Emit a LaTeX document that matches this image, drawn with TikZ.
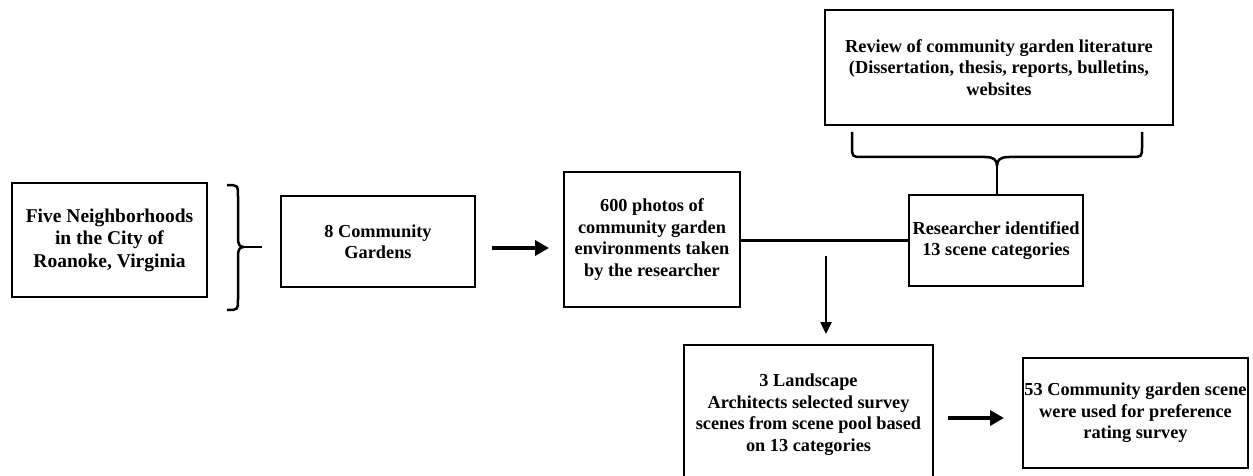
\documentclass[tikz,border=0pt]{standalone}
\usepackage{fontspec}
\setmainfont{Liberation Serif}
\usetikzlibrary{arrows.meta}
\begin{document}
\begin{tikzpicture}[x=1pt,y=-1pt,
  box/.style={draw,line width=2pt,inner sep=0pt,align=center,
    font=\bfseries\fontsize{18.3}{21.5}\selectfont},
  bigarrow/.style={line width=4pt,-{Triangle[length=14pt,width=15pt]}},
  thinarrow/.style={line width=2.5pt,-{Triangle[length=12pt,width=11pt]}},
  bracepath/.style={line width=2.5pt,line join=round},
  conn/.style={line width=2.5pt}]
\useasboundingbox (0,0) rectangle (1253,476);
\clip (0,0) rectangle (1253,476);

\node[box,minimum width=195pt,minimum height=114pt,
  font=\bfseries\fontsize{19.5}{22.5}\selectfont] (b1) at (109.5,240)
  {Five Neighborhoods\\in the City of\\Roanoke, Virginia};
\node[box,minimum width=194pt,minimum height=91pt] (b2) at (378,241.5)
  {8 Community\\Gardens};
\node[box,minimum width=176pt,minimum height=135pt] (b3) at (652,239.5)
  {600 photos of\\community garden\\environments taken\\by the researcher};
\node[box,minimum width=174pt,minimum height=91pt] (b4) at (996,240.5)
  {Researcher identified\\13 scene categories};
\node[box,minimum width=348pt,minimum height=115pt] (rev) at (999,67.5)
  {Review of community garden literature\\(Dissertation, thesis, reports, bulletins,\\websites};
\node[box,minimum width=249pt,minimum height=139pt] (land) at (808.5,414.5)
  {3 Landscape\\Architects selected survey\\scenes from scene pool based\\on 13 categories};
\node[box,minimum width=225pt,minimum height=110pt] (b53) at (1135.5,413)
  {53 Community garden scene\\were used for preference\\rating survey};

% brace after box 1
\coordinate (bt1) at (227,185);
\coordinate (bb1) at (227,310);
\coordinate (tip1) at (244,247);
\coordinate (end1) at (262,247);
\draw[bracepath] (bt1) .. controls (238,185) .. (238,197) -- (238,238)
  .. controls (238,245) and (240,247) .. (tip1)
  .. controls (240,247) and (238,249) .. (238,256) -- (238,299)
  .. controls (238,310) .. (bb1);
\draw[conn] (tip1) -- (end1);

% brace under review box
\coordinate (bl2) at (852,132);
\coordinate (br2) at (1142,132);
\coordinate (tip2) at (997,166);
\draw[bracepath] (bl2) -- (852,146) .. controls (852,157) .. (863,157) -- (985,157)
  .. controls (994,157) and (997,160) .. (tip2)
  .. controls (997,160) and (1000,157) .. (1009,157) -- (1131,157)
  .. controls (1142,157) .. (1142,146) -- (br2);
\draw[conn] (tip2) -- (tip2 |- b4.north);

% arrows
\draw[bigarrow,shorten <=16pt,shorten >=14pt] (b2.east |- 0,248) -- (b3.west |- 0,248);
\draw[conn] (b3.east |- b4.west) -- (b4.west);
\coordinate (vs) at (826,256);
\draw[thinarrow,shorten >=10pt] (vs) -- (vs |- land.north);
\draw[bigarrow,shorten <=14pt,shorten >=18pt] (land.east |- 0,418) -- (b53.west |- 0,418);
\end{tikzpicture}
\end{document}
